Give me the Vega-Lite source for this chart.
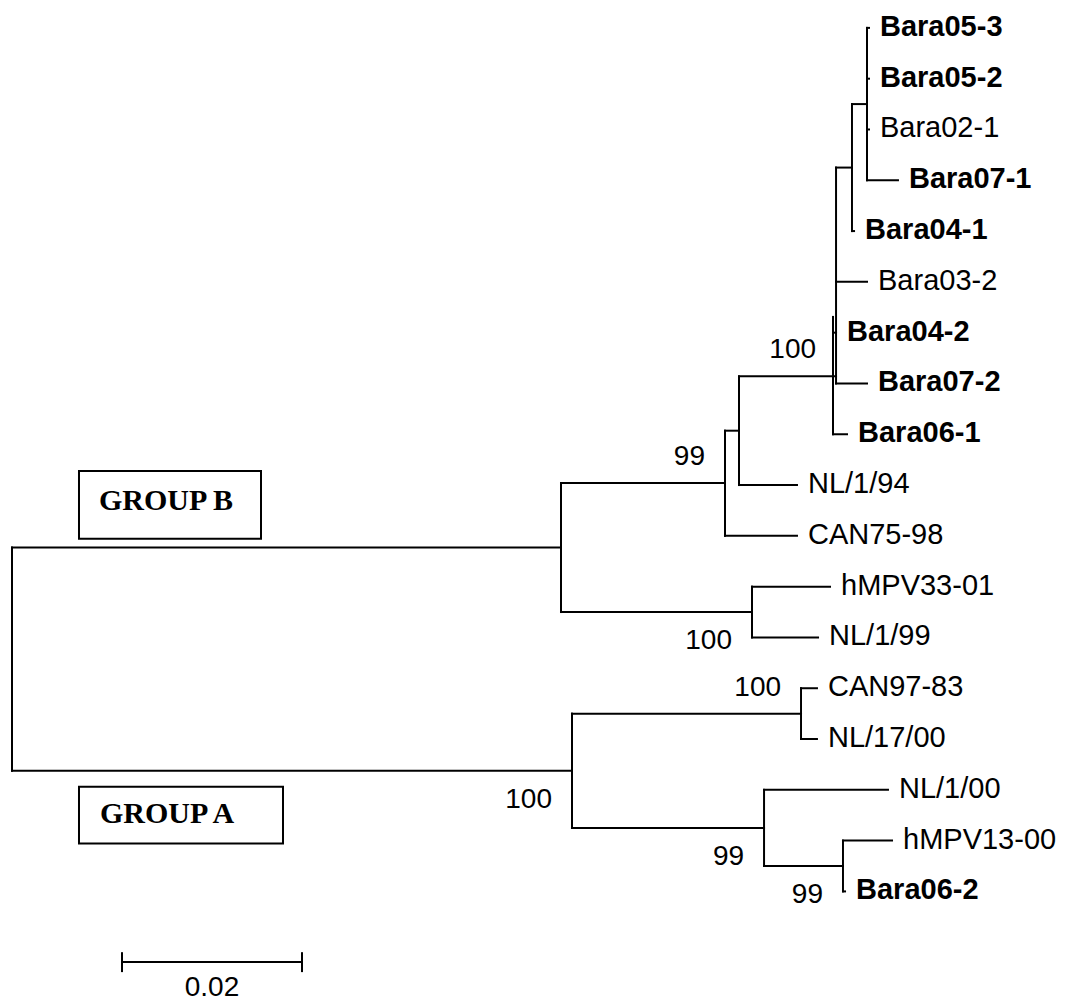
{
  "$schema": "https://vega.github.io/schema/vega-lite/v6.json",
  "width": 1072,
  "height": 1003,
  "autosize": {"type": "fit", "contains": "padding"},
  "padding": 0,
  "background": "white",
  "config": {"view": {"stroke": null}},
  "datasets": {
    "segs": [
      {"x": 0, "x2": 0.061, "y": 10.23, "y2": 10.23},
      {"x": 0, "x2": 0.06222, "y": 14.625, "y2": 14.625},
      {"x": 0, "x2": 0, "y": 10.23, "y2": 14.625},
      {"x": 0.061, "x2": 0.061, "y": 8.96, "y2": 11.5},
      {"x": 0.061, "x2": 0.07922, "y": 8.96, "y2": 8.96},
      {"x": 0.061, "x2": 0.08222, "y": 11.5, "y2": 11.5},
      {"x": 0.07922, "x2": 0.07922, "y": 7.93, "y2": 10},
      {"x": 0.07922, "x2": 0.08078, "y": 7.93, "y2": 7.93},
      {"x": 0.07922, "x2": 0.08722, "y": 10, "y2": 10},
      {"x": 0.08078, "x2": 0.08078, "y": 6.86, "y2": 9},
      {"x": 0.08078, "x2": 0.09156, "y": 6.86, "y2": 6.86},
      {"x": 0.08078, "x2": 0.08722, "y": 9, "y2": 9},
      {"x": 0.09156, "x2": 0.09156, "y": 2.75, "y2": 7},
      {"x": 0.09122, "x2": 0.09122, "y": 5.69, "y2": 8},
      {"x": 0.09156, "x2": 0.09333, "y": 2.75, "y2": 2.75},
      {"x": 0.09333, "x2": 0.09333, "y": 1.5, "y2": 4},
      {"x": 0.09333, "x2": 0.095, "y": 1.5, "y2": 1.5},
      {"x": 0.09333, "x2": 0.09356, "y": 4, "y2": 4},
      {"x": 0.095, "x2": 0.095, "y": 0, "y2": 3},
      {"x": 0.095, "x2": 0.09522, "y": 0, "y2": 0},
      {"x": 0.095, "x2": 0.09522, "y": 1, "y2": 1},
      {"x": 0.095, "x2": 0.09522, "y": 2, "y2": 2},
      {"x": 0.095, "x2": 0.09844, "y": 3, "y2": 3},
      {"x": 0.09156, "x2": 0.095, "y": 5, "y2": 5},
      {"x": 0.09122, "x2": 0.09156, "y": 6, "y2": 6},
      {"x": 0.09156, "x2": 0.095, "y": 7, "y2": 7},
      {"x": 0.09122, "x2": 0.09278, "y": 8, "y2": 8},
      {"x": 0.08222, "x2": 0.08222, "y": 11, "y2": 12},
      {"x": 0.08222, "x2": 0.09089, "y": 11, "y2": 11},
      {"x": 0.08222, "x2": 0.08956, "y": 12, "y2": 12},
      {"x": 0.06222, "x2": 0.06222, "y": 13.5, "y2": 15.75},
      {"x": 0.06222, "x2": 0.08767, "y": 13.5, "y2": 13.5},
      {"x": 0.08767, "x2": 0.08767, "y": 13, "y2": 14},
      {"x": 0.08767, "x2": 0.08944, "y": 13, "y2": 13},
      {"x": 0.08767, "x2": 0.08944, "y": 14, "y2": 14},
      {"x": 0.06222, "x2": 0.08356, "y": 15.75, "y2": 15.75},
      {"x": 0.08356, "x2": 0.08356, "y": 15, "y2": 16.5},
      {"x": 0.08356, "x2": 0.09733, "y": 15, "y2": 15},
      {"x": 0.08356, "x2": 0.09233, "y": 16.5, "y2": 16.5},
      {"x": 0.09233, "x2": 0.09233, "y": 16, "y2": 17},
      {"x": 0.09233, "x2": 0.09778, "y": 16, "y2": 16},
      {"x": 0.09233, "x2": 0.09256, "y": 17, "y2": 17},
      {"x": 0.012222, "x2": 0.032222, "y": 18.392, "y2": 18.392},
      {"x": 0.012222, "x2": 0.012222, "y": 18.216, "y2": 18.569},
      {"x": 0.032222, "x2": 0.032222, "y": 18.216, "y2": 18.569}
    ],
    "tips": [
      {"name": "Bara05-3", "x": 0.09522, "y": 0, "bold": true},
      {"name": "Bara05-2", "x": 0.09522, "y": 1, "bold": true},
      {"name": "Bara02-1", "x": 0.09522, "y": 2, "bold": false},
      {"name": "Bara07-1", "x": 0.09844, "y": 3, "bold": true},
      {"name": "Bara04-1", "x": 0.09356, "y": 4, "bold": true},
      {"name": "Bara03-2", "x": 0.095, "y": 5, "bold": false},
      {"name": "Bara04-2", "x": 0.09156, "y": 6, "bold": true},
      {"name": "Bara07-2", "x": 0.095, "y": 7, "bold": true},
      {"name": "Bara06-1", "x": 0.09278, "y": 8, "bold": true},
      {"name": "NL/1/94", "x": 0.08722, "y": 9, "bold": false},
      {"name": "CAN75-98", "x": 0.08722, "y": 10, "bold": false},
      {"name": "hMPV33-01", "x": 0.09089, "y": 11, "bold": false},
      {"name": "NL/1/99", "x": 0.08956, "y": 12, "bold": false},
      {"name": "CAN97-83", "x": 0.08944, "y": 13, "bold": false},
      {"name": "NL/17/00", "x": 0.08944, "y": 14, "bold": false},
      {"name": "NL/1/00", "x": 0.09733, "y": 15, "bold": false},
      {"name": "hMPV13-00", "x": 0.09778, "y": 16, "bold": false},
      {"name": "Bara06-2", "x": 0.09256, "y": 17, "bold": true}
    ],
    "boot": [
      {"v": "100", "x": 0.09156, "y": 6.86, "side": "above"},
      {"v": "99", "x": 0.07922, "y": 8.96, "side": "above"},
      {"v": "100", "x": 0.08767, "y": 13.5, "side": "above"},
      {"v": "100", "x": 0.08222, "y": 11.5, "side": "below"},
      {"v": "100", "x": 0.06222, "y": 14.625, "side": "below"},
      {"v": "99", "x": 0.08356, "y": 15.75, "side": "below"},
      {"v": "99", "x": 0.09233, "y": 16.5, "side": "below"}
    ],
    "boxes": [
      {"g": "GROUP B", "x": 0.007444, "x2": 0.027667, "y": 8.725, "y2": 10.059, "tx": 0.01711, "ty": 9.49},
      {"g": "GROUP A", "x": 0.007444, "x2": 0.030111, "y": 14.941, "y2": 16.059, "tx": 0.01722, "ty": 15.647}
    ],
    "scale": [
      {"t": "0.02", "x": 0.022222, "y": 19.06}
    ]
  },
  "layer": [
    {
      "data": {"name": "boxes"},
      "mark": {"type": "rect", "fill": "white", "stroke": "black", "strokeWidth": 2},
      "encoding": {
        "x": {"field": "x", "type": "quantitative", "scale": {"domain": [-0.0013333, 0.1177778], "nice": false, "zero": false}, "axis": null},
        "x2": {"field": "x2"},
        "y": {"field": "y", "type": "quantitative", "scale": {"domain": [-0.549, 19.118], "nice": false, "zero": false, "reverse": true}, "axis": null},
        "y2": {"field": "y2"}
      }
    },
    {
      "data": {"name": "boxes"},
      "mark": {"type": "text", "font": "Liberation Serif", "fontWeight": "bold", "fontSize": 30, "align": "center", "baseline": "alphabetic", "color": "black"},
      "encoding": {
        "x": {"field": "tx", "type": "quantitative"},
        "y": {"field": "ty", "type": "quantitative"},
        "text": {"field": "g"}
      }
    },
    {
      "data": {"name": "segs"},
      "mark": {"type": "rule", "color": "black", "strokeWidth": 2, "strokeCap": "square"},
      "encoding": {
        "x": {"field": "x", "type": "quantitative"},
        "x2": {"field": "x2"},
        "y": {"field": "y", "type": "quantitative"},
        "y2": {"field": "y2"}
      }
    },
    {
      "data": {"name": "tips"},
      "transform": [{"filter": "datum.bold"}],
      "mark": {"type": "text", "font": "Liberation Sans", "fontWeight": "bold", "fontSize": 29, "align": "left", "baseline": "alphabetic", "dx": 11, "dy": 8, "color": "black"},
      "encoding": {
        "x": {"field": "x", "type": "quantitative"},
        "y": {"field": "y", "type": "quantitative"},
        "text": {"field": "name"}
      }
    },
    {
      "data": {"name": "tips"},
      "transform": [{"filter": "!datum.bold"}],
      "mark": {"type": "text", "font": "Liberation Sans", "fontSize": 29, "align": "left", "baseline": "alphabetic", "dx": 11, "dy": 8, "color": "black"},
      "encoding": {
        "x": {"field": "x", "type": "quantitative"},
        "y": {"field": "y", "type": "quantitative"},
        "text": {"field": "name"}
      }
    },
    {
      "data": {"name": "boot"},
      "transform": [{"filter": "datum.side == 'above'"}],
      "mark": {"type": "text", "font": "Liberation Sans", "fontSize": 28, "align": "right", "baseline": "alphabetic", "dx": -20, "dy": -18, "color": "black"},
      "encoding": {
        "x": {"field": "x", "type": "quantitative"},
        "y": {"field": "y", "type": "quantitative"},
        "text": {"field": "v"}
      }
    },
    {
      "data": {"name": "boot"},
      "transform": [{"filter": "datum.side == 'below'"}],
      "mark": {"type": "text", "font": "Liberation Sans", "fontSize": 28, "align": "right", "baseline": "alphabetic", "dx": -20, "dy": 37, "color": "black"},
      "encoding": {
        "x": {"field": "x", "type": "quantitative"},
        "y": {"field": "y", "type": "quantitative"},
        "text": {"field": "v"}
      }
    },
    {
      "data": {"name": "scale"},
      "mark": {"type": "text", "font": "Liberation Sans", "fontSize": 28, "align": "center", "baseline": "alphabetic", "color": "black"},
      "encoding": {
        "x": {"field": "x", "type": "quantitative"},
        "y": {"field": "y", "type": "quantitative"},
        "text": {"field": "t"}
      }
    }
  ]
}
